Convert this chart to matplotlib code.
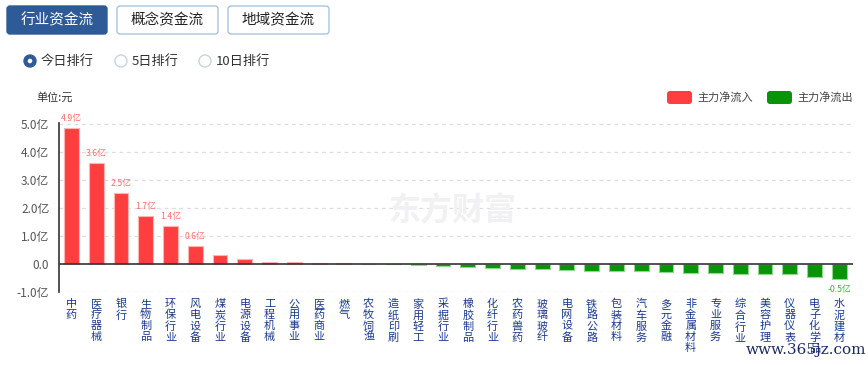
import matplotlib
matplotlib.use("Agg")
import matplotlib.pyplot as plt
from matplotlib.patches import FancyBboxPatch, Circle
from matplotlib.transforms import IdentityTransform

plt.rcParams["font.family"] = ["Noto Sans CJK SC", "DejaVu Sans"]

W, H = 868, 365

sectors = ["中药", "医疗器械", "银行", "生物制品", "环保行业", "风电设备", "煤炭行业", "电源设备",
           "工程机械", "公用事业", "医药商业", "燃气", "农牧饲渔", "造纸印刷", "家用轻工", "采掘行业",
           "橡胶制品", "化纤行业", "农药兽药", "玻璃玻纤", "电网设备", "铁路公路", "包装材料", "汽车服务",
           "多元金融", "非金属材料", "专业服务", "综合行业", "美容护理", "仪器仪表", "电子化学品", "水泥建材"]
net_flow = [4.87, 3.62, 2.53, 1.71, 1.37, 0.65, 0.32, 0.17,
            0.08, 0.06, 0.04, 0.03, 0.005, -0.01, -0.02, -0.06,
            -0.12, -0.14, -0.17, -0.19, -0.21, -0.24, -0.26, -0.26,
            -0.30, -0.31, -0.32, -0.35, -0.37, -0.37, -0.46, -0.53]
labelled = {0: "4.9亿", 1: "3.6亿", 2: "2.5亿", 3: "1.7亿", 4: "1.4亿", 5: "0.6亿", 31: "-0.5亿"}
y_ticks = [-1, 0, 1, 2, 3, 4, 5]
y_labels = ["-1.0亿", "0.0", "1.0亿", "2.0亿", "3.0亿", "4.0亿", "5.0亿"]

RED = "#ff3f3f"
GREEN = "#079507"
BLUE = "#2e5a97"

fig = plt.figure(figsize=(W / 100, H / 100), dpi=100)
px = IdentityTransform()


def fy(y):
    return H - y


# top buttons
buttons = [("行业资金流", 7, 107, True), ("概念资金流", 117, 218, False), ("地域资金流", 228, 329, False)]
for text, x0, x1, active in buttons:
    box = FancyBboxPatch((x0, fy(34)), x1 - x0, 28, boxstyle="round,pad=0,rounding_size=3",
                         transform=px, facecolor=BLUE if active else "white",
                         edgecolor=BLUE if active else "#a9c3df", linewidth=1)
    fig.patches.append(box)
    fig.text((x0 + x1) / 2 / W, 1 - 20 / H, text, ha="center", va="center", fontsize=10.5,
             color="white" if active else "#222222")

# radio buttons
radios = [("今日排行", 30, True), ("5日排行", 121, False), ("10日排行", 205, False)]
for text, cx, on in radios:
    if on:
        fig.patches.append(Circle((cx, fy(61)), 6, transform=px, facecolor=BLUE, edgecolor=BLUE))
        fig.patches.append(Circle((cx, fy(61)), 2.3, transform=px, facecolor="white", edgecolor="none"))
    else:
        fig.patches.append(Circle((cx, fy(61)), 6, transform=px, facecolor="white",
                                  edgecolor="#c8d4e2", linewidth=1))
    fig.text((cx + 11) / W, 1 - 61 / H, text, ha="left", va="center", fontsize=9.5, color="#333333")

# unit and legend
fig.text(36 / W, 1 - 97 / H, "单位:元", ha="left", va="center", fontsize=8, color="#333333")
for x0, color, text in [(667, RED, "主力净流入"), (767, GREEN, "主力净流出")]:
    fig.patches.append(FancyBboxPatch((x0, fy(104)), 25, 13, boxstyle="round,pad=0,rounding_size=3",
                                      transform=px, facecolor=color, edgecolor="none"))
    fig.text((x0 + 30) / W, 1 - 97 / H, text, ha="left", va="center", fontsize=8, color="#444444")

# chart area
ax = fig.add_axes([59 / W, (H - 292) / H, (853 - 59) / W, (292 - 123) / H])
xs = list(range(len(sectors)))
colors = [RED if v >= 0 else GREEN for v in net_flow]
edges = ["#ffb3b3" if v >= 0 else "#8fd68f" for v in net_flow]
ax.bar(xs, net_flow, width=0.6, color=colors, edgecolor=edges, linewidth=0.8, zorder=3)

for i, txt in labelled.items():
    v = net_flow[i]
    ax.annotate(txt, (i, v), xytext=(0, 7 if v >= 0 else -8), textcoords="offset points",
                ha="center", va="center", fontsize=6.3,
                color="#ff6b6b" if v >= 0 else "#3cb33c", zorder=4)

ax.set_xlim(-0.5, 31.55)
ax.set_ylim(-1, 5.05)
ax.set_yticks(y_ticks)
ax.set_yticklabels(y_labels, fontsize=8.5, color="#555555")
for y in y_ticks:
    if y != 0:
        ax.axhline(y, color="#dddddd", linestyle=(0, (3, 3)), linewidth=0.9, zorder=1)
ax.axhline(0, color="#333333", linewidth=1.2, zorder=4)

ax.set_xticks(xs)
ax.set_xticklabels(["\n".join(s) for s in sectors], fontsize=8, color="#1b3a8c",
                   va="top", linespacing=1.12)
ax.tick_params(axis="both", length=0)
ax.tick_params(axis="x", pad=5)
ax.tick_params(axis="y", pad=7)
for side in ["top", "right", "bottom"]:
    ax.spines[side].set_visible(False)
ax.spines["left"].set_color("#333333")
ax.spines["left"].set_linewidth(1.2)

# watermarks
fig.text(452 / W, 1 - 212 / H, "东方财富", ha="center", va="center", fontsize=23,
         fontweight="bold", color="#f1f1f3", zorder=0)
fig.text(746 / W, 1 - 350 / H, "www.365jz.com", ha="left", va="center", fontsize=11,
         family="DejaVu Serif", color="#1c2b5e", zorder=10)

fig.savefig("out.png", dpi=100)
